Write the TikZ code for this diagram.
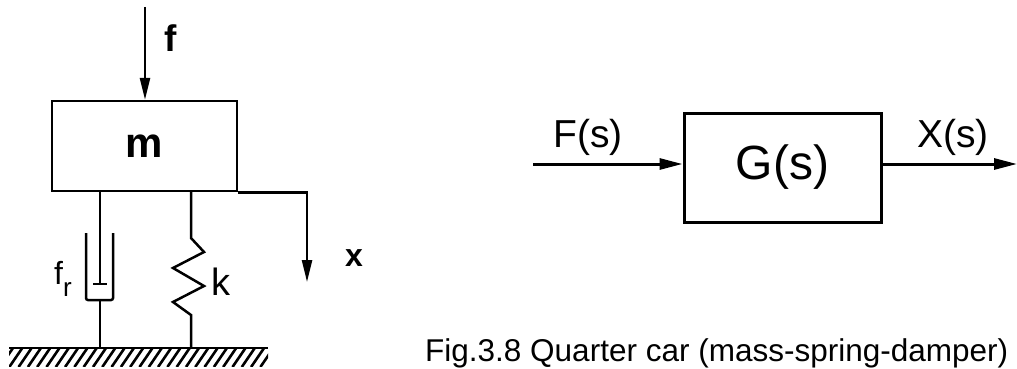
\documentclass[tikz,border=0pt]{standalone}
\usepackage{fontspec}
\setmainfont{Liberation Sans}
\usetikzlibrary{calc, arrows.meta}

\begin{document}
\begin{tikzpicture}[x=1pt, y=-1pt,
        mech/.style={line width=2.5pt},
        sig/.style={line width=3pt},
        mtip/.style={-{Triangle[length=22pt,width=10pt]}},
        stip/.style={-{Triangle[length=23pt,width=11pt]}},
        lbl/.style={inner sep=0pt}]
        \useasboundingbox (0,0) rectangle (1017,369);
        \node[draw, mech, minimum width=185pt, minimum height=90pt, inner sep=0pt,
              font=\bfseries\fontsize{42}{42}\selectfont] (mass) at (144.5,146) {m};
        \coordinate (ftop) at (145,7);
        \draw[mech,mtip] (ftop) -- (ftop |- mass.north);
        \node[lbl, anchor=base west, font=\bfseries\fontsize{37}{37}\selectfont] (flabel) at (164,52) {f};
        \draw[mech,mtip] (mass.south east) -| (307,282) coordinate (xtip);
        \node[lbl, anchor=base west, font=\bfseries\fontsize{32}{32}\selectfont] (xlabel) at (345,266) {x};
        \coordinate (ground west) at (9,348);
        \coordinate (ground east) at (268,348);
        \draw[mech] (ground west) -- (ground east);
        \begin{scope}
            \clip (9,349) rectangle (268,366);
            \foreach \x in {0,9.3,...,270}
                \draw[line width=2.6pt] (\x,367) -- (\x+13,348);
        \end{scope}
        \coordinate (damper top) at (100,191);
        \coordinate (damper foot) at (100,348);
        \draw[mech] (damper top) -- (100,284) coordinate (piston);
        \draw[mech] (93,284) -- (107,284);
        \draw[mech, rounded corners=2pt] (86,233) -- (86,300) -- (113,300) -- (113,233);
        \draw[mech] (100,300) -- (damper foot);
        \node[lbl, anchor=base west, font=\fontsize{32}{32}\selectfont] (frlabel) at (54,284)
            {f\raisebox{-12pt}{\fontsize{26}{26}\selectfont r}};
        \coordinate (spring top) at (191,191);
        \coordinate (spring foot) at (191,348);
        \draw[mech] (spring top) -- (191,238) -- (204,252) -- (173,268) -- (204,286)
            -- (173,302) -- (191,315) -- (spring foot);
        \node[lbl, anchor=base west, font=\fontsize{38}{38}\selectfont] (klabel) at (211,295) {k};
        \node[draw, sig, minimum width=197pt, minimum height=109pt,
              font=\fontsize{48}{48}\selectfont] (G) at (782.5,167.5) {G(s)};
        \coordinate (in) at (533,164);
        \coordinate (out) at (1017,164);
        \draw[sig,stip] (in) -- (in -| G.west);
        \draw[sig,stip] (G.east |- out) -- (out);
        \node[lbl, anchor=base, font=\fontsize{39}{39}\selectfont] (Flabel) at (588,147) {F(s)};
        \node[lbl, anchor=base, font=\fontsize{39}{39}\selectfont] (Xlabel) at (953,147) {X(s)};
        \node[lbl, anchor=base west, font=\fontsize{31.5}{31.5}\selectfont] (caption) at (425,361)
            {Fig.3.8 Quarter car (mass-spring-damper)};
\end{tikzpicture}
\end{document}
